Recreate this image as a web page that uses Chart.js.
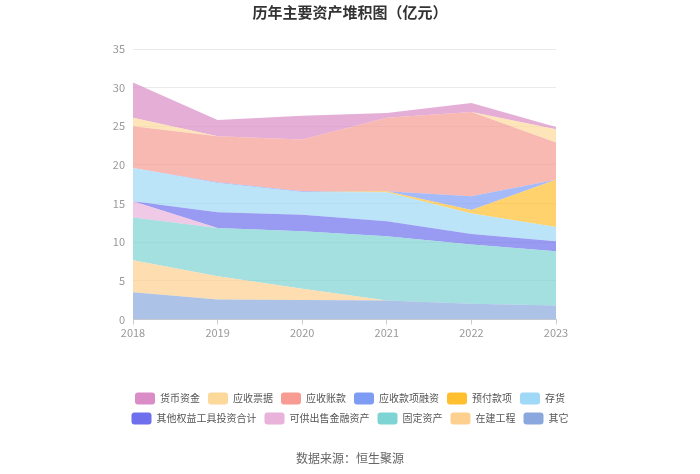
<!DOCTYPE html>
<html>
<head>
<meta charset="utf-8">
<script src="https://cdn.jsdelivr.net/npm/chart.js@4"></script>
<style>
html,body{margin:0;padding:0;background:#fff;}
#wrap{width:700px;height:474px;position:relative;}
</style>
</head>
<body>
<div id="wrap"><canvas id="c" width="700" height="474"></canvas></div>
<script>
const years = ['2018','2019','2020','2021','2022','2023'];
const yTicks = [0,5,10,15,20,25,30,35];
// bottom to top
const other   = [3.53, 2.58, 2.50, 2.45, 2.02, 1.80];
const cip     = [4.13, 3.02, 1.46, 0, 0, 0];
const fixed   = [5.54, 6.24, 7.44, 8.31, 7.67, 7.03];
const afs     = [2.10, 0, 0, 0, 0, 0];
const oeq     = [0, 2.02, 2.16, 1.94, 1.38, 1.27];
const inv     = [4.30, 3.79, 2.94, 3.75, 2.63, 1.87];
const prepay  = [0, 0, 0, 0.15, 0.45, 6.11];
const recfin  = [0, 0.1, 0.1, 0, 1.8, 0];
const ar      = [5.40, 5.95, 6.70, 9.50, 10.90, 4.82];
const notes   = [1.10, 0, 0, 0, 0, 1.70];
const cash    = [4.55, 2.10, 3.05, 0.60, 1.15, 0.30];

const series = [
  ['其它', other, '#8aa8dd'],
  ['在建工程', cip, '#fdd08f'],
  ['固定资产', fixed, '#7ed3d3'],
  ['可供出售金融资产', afs, '#e8b2da'],
  ['其他权益工具投资合计', oeq, '#6d6fec'],
  ['存货', inv, '#a0d8f7'],
  ['预付款项', prepay, '#ffbf2f'],
  ['应收款项融资', recfin, '#7f9cf5'],
  ['应收账款', ar, '#f79b93'],
  ['应收票据', notes, '#fdd89b'],
  ['货币资金', cash, '#d98cc6']
];
function alpha(hex, a){
  const r=parseInt(hex.slice(1,3),16), g=parseInt(hex.slice(3,5),16), b=parseInt(hex.slice(5,7),16);
  return `rgba(${r},${g},${b},${a})`;
}
const datasets = series.map((s,i)=>({
  label: s[0], data: s[1], baseColor: s[2], yAxisID: 'y',
  backgroundColor: alpha(s[2],0.7), borderColor: 'rgba(0,0,0,0)', borderWidth: 0,
  pointRadius: 0, pointHoverRadius: 0, fill: i===0 ? 'origin' : '-1', tension: 0
}));

const FONT = '"Noto Sans CJK SC", "Noto Sans", sans-serif';

new Chart(document.getElementById('c'), {
  type: 'line',
  data: { labels: years, datasets },
  options: {
    responsive: false,
    animation: false,
    layout: { padding: { left: 70, right: 70, top: 0, bottom: 8 } },
    plugins: {
      title: { display: true, text: '历年主要资产堆积图（亿元）', color: '#333', font: { family: FONT, size: 15, weight: 'bold' }, padding: { top: 3, bottom: 28 } },
      subtitle: { display: true, position: 'bottom', text: '数据来源：恒生聚源', color: '#666', font: { family: FONT, size: 12 }, padding: { top: 17, bottom: 0 } },
      legend: {
        position: 'bottom', reverse: true,
        labels: {
          font: { family: FONT, size: 10 }, color: '#555',
          boxWidth: 20, boxHeight: 12, padding: 8, useBorderRadius: true, borderRadius: 3,
          generateLabels(chart){
            const items = Chart.defaults.plugins.legend.labels.generateLabels(chart);
            items.forEach(it=>{ const ds = chart.data.datasets[it.datasetIndex]; it.fillStyle = ds.baseColor; it.strokeStyle = ds.baseColor; it.lineWidth = 0; });
            return items;
          }
        }
      },
      tooltip: { enabled: false }
    },
    scales: {
      x: {
        grid: { display: true, drawOnChartArea: false, drawTicks: true, tickLength: 5, color: '#ccc' },
        border: { color: '#ccc' },
        ticks: { color: '#999', font: { family: FONT, size: 11 }, padding: 2, maxRotation: 0 },
        afterFit(axis){ axis.height += 43; }
      },
      y: {
        stacked: true, min: 0, max: 35,
        afterBuildTicks(axis){ axis.ticks = yTicks.map(v=>({value:v})); },
        afterFit(axis){ axis.width = 63; },
        grid: { color: '#eaeaea', drawTicks: false },
        border: { display: false },
        ticks: { color: '#999', font: { family: FONT, size: 11 }, padding: 8 }
      },
      y2: {
        position: 'right', display: true,
        grid: { display: false }, border: { display: false },
        ticks: { display: false },
        afterFit(axis){ axis.width = 74; }
      }
    }
  }
});
</script>
</body>
</html>
